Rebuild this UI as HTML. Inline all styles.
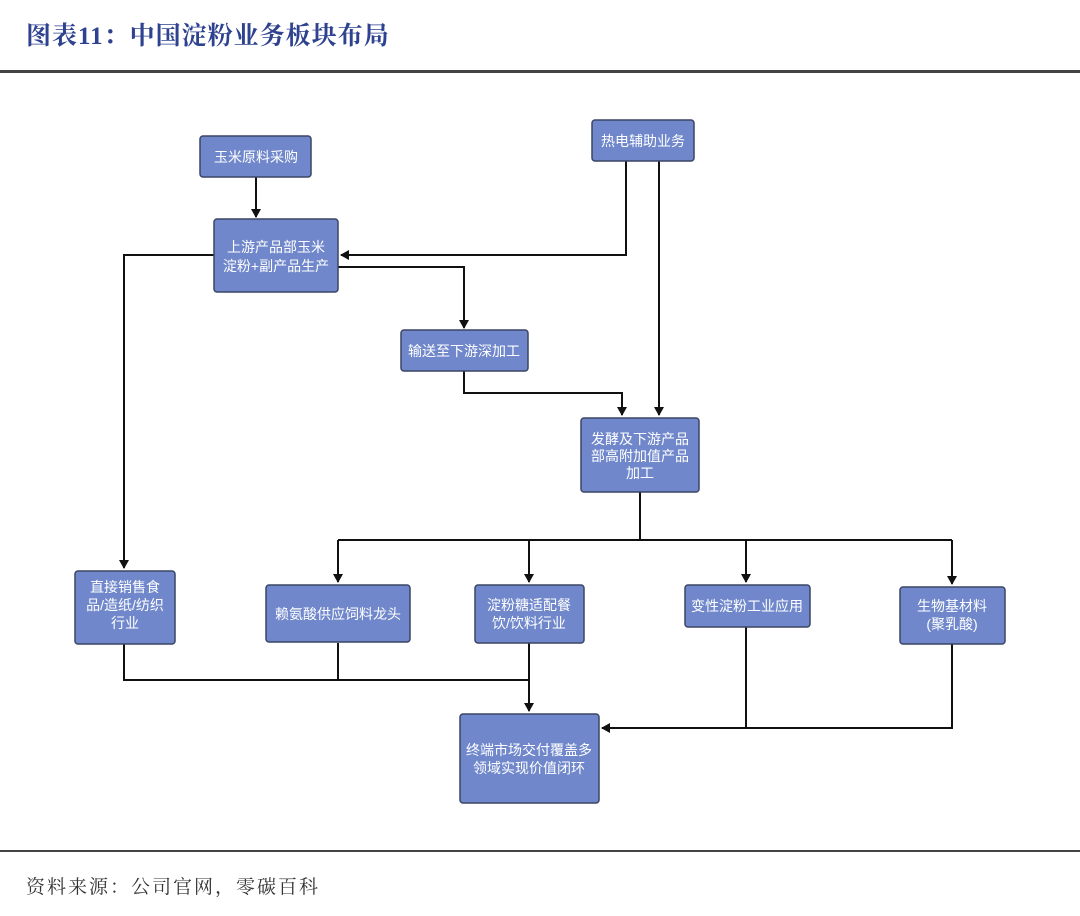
<!DOCTYPE html>
<html><head><meta charset="utf-8"><style>
html,body{margin:0;padding:0;background:#fff;}
body{width:1080px;height:916px;position:relative;overflow:hidden;}
.t{position:absolute;left:26px;top:16px;font:bold 25px "Liberation Serif","Noto Serif CJK SC",serif;color:#2e4290;letter-spacing:1px;}
.s{position:absolute;left:26px;top:872px;font:19px "Liberation Serif","Noto Serif CJK SC",serif;color:#333;letter-spacing:2px;}
svg text{font-family:"Liberation Sans","Noto Sans CJK SC",sans-serif;font-size:14px;fill:#fff;text-anchor:middle;}
</style></head><body>
<div class="t">图表11：中国淀粉业务板块布局</div>
<svg width="1080" height="916" style="position:absolute;left:0;top:0">
<defs><marker id="a" markerWidth="10" markerHeight="10" refX="8" refY="5" orient="auto" markerUnits="userSpaceOnUse"><path d="M0,0 L9,5 L0,10z" fill="#111"/></marker></defs>
<rect x="0" y="70" width="1080" height="3" fill="#444"/>
<rect x="0" y="850" width="1080" height="2" fill="#444"/>
<g fill="none" stroke="#111" stroke-width="2">
<path d="M256,177 V217" marker-end="url(#a)"/>
<path d="M626,161 V255 H341" marker-end="url(#a)"/>
<path d="M659,161 V415" marker-end="url(#a)"/>
<path d="M214,255 H124 V568" marker-end="url(#a)"/>
<path d="M338,267 H464 V328" marker-end="url(#a)"/>
<path d="M464,371 V393 H622 V415" marker-end="url(#a)"/>
<path d="M640,492 V540"/>
<path d="M338,540 H952"/>
<path d="M338,540 V582" marker-end="url(#a)"/>
<path d="M529,540 V582" marker-end="url(#a)"/>
<path d="M746,540 V582" marker-end="url(#a)"/>
<path d="M952,540 V584" marker-end="url(#a)"/>
<path d="M124,644 V680 H529"/>
<path d="M338,643 V680"/>
<path d="M529,643 V711" marker-end="url(#a)"/>
<path d="M746,627 V728"/>
<path d="M952,644 V728 H602" marker-end="url(#a)"/>
</g>
<g fill="#7088cb" stroke="#3a4565" stroke-width="1.5">
<rect x="200" y="136" width="111" height="41" rx="3"/>
<rect x="214" y="219" width="124" height="73" rx="3"/>
<rect x="592" y="120" width="102" height="41" rx="3"/>
<rect x="401" y="330" width="127" height="41" rx="3"/>
<rect x="581" y="418" width="118" height="74" rx="3"/>
<rect x="75" y="571" width="100" height="73" rx="3"/>
<rect x="266" y="585" width="144" height="57" rx="3"/>
<rect x="475" y="585" width="109" height="58" rx="3"/>
<rect x="685" y="585" width="125" height="42" rx="3"/>
<rect x="900" y="587" width="105" height="57" rx="3"/>
<rect x="460" y="714" width="139" height="89" rx="3"/>
</g>
<text x="256" y="162">玉米原料采购</text>
<text x="276" y="252">上游产品部玉米</text>
<text x="276" y="271">淀粉+副产品生产</text>
<text x="643" y="146">热电辅助业务</text>
<text x="464" y="356">输送至下游深加工</text>
<text x="640" y="444">发酵及下游产品</text>
<text x="640" y="461">部高附加值产品</text>
<text x="640" y="478">加工</text>
<text x="125" y="592">直接销售食</text>
<text x="125" y="610">品/造纸/纺织</text>
<text x="125" y="628">行业</text>
<text x="338" y="619">赖氨酸供应饲料龙头</text>
<text x="529" y="610">淀粉糖适配餐</text>
<text x="529" y="628">饮/饮料行业</text>
<text x="747" y="611">变性淀粉工业应用</text>
<text x="952" y="611">生物基材料</text>
<text x="952" y="629">(聚乳酸)</text>
<text x="529" y="755">终端市场交付覆盖多</text>
<text x="529" y="773">领域实现价值闭环</text>
</svg>
<div class="s">资料来源：公司官网，零碳百科</div>
</body></html>
